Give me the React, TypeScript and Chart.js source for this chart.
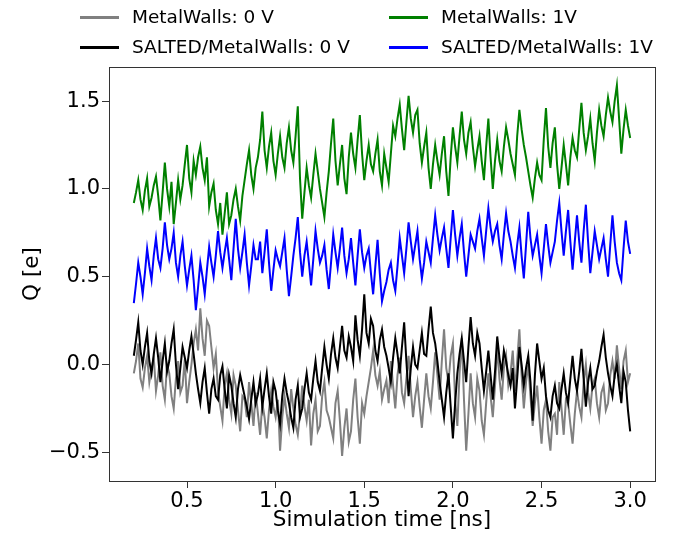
import React, { useEffect, useRef } from "react";
import { Chart, registerables } from "chart.js";

Chart.register(...registerables);

const times = [
  0.2, 0.2125, 0.225, 0.2375, 0.25, 0.2625, 0.275, 0.2875,
  0.3, 0.3125, 0.325, 0.3375, 0.35, 0.3625, 0.375, 0.3875,
  0.4, 0.4125, 0.425, 0.4375, 0.45, 0.4625, 0.475, 0.4875,
  0.5, 0.5125, 0.525, 0.5375, 0.55, 0.5625, 0.575, 0.5875,
  0.6, 0.6125, 0.625, 0.6375, 0.65, 0.6625, 0.675, 0.6875,
  0.7, 0.7125, 0.725, 0.7375, 0.75, 0.7625, 0.775, 0.7875,
  0.8, 0.8125, 0.825, 0.8375, 0.85, 0.8625, 0.875, 0.8875,
  0.9, 0.9125, 0.925, 0.9375, 0.95, 0.9625, 0.975, 0.9875,
  1.0, 1.0125, 1.025, 1.0375, 1.05, 1.0625, 1.075, 1.0875,
  1.1, 1.1125, 1.125, 1.1375, 1.15, 1.1625, 1.175, 1.1875,
  1.2, 1.2125, 1.225, 1.2375, 1.25, 1.2625, 1.275, 1.2875,
  1.3, 1.3125, 1.325, 1.3375, 1.35, 1.3625, 1.375, 1.3875,
  1.4, 1.4125, 1.425, 1.4375, 1.45, 1.4625, 1.475, 1.4875,
  1.5, 1.5125, 1.525, 1.5375, 1.55, 1.5625, 1.575, 1.5875,
  1.6, 1.6125, 1.625, 1.6375, 1.65, 1.6625, 1.675, 1.6875,
  1.7, 1.7125, 1.725, 1.7375, 1.75, 1.7625, 1.775, 1.7875,
  1.8, 1.8125, 1.825, 1.8375, 1.85, 1.8625, 1.875, 1.8875,
  1.9, 1.9125, 1.925, 1.9375, 1.95, 1.9625, 1.975, 1.9875,
  2.0, 2.0125, 2.025, 2.0375, 2.05, 2.0625, 2.075, 2.0875,
  2.1, 2.1125, 2.125, 2.1375, 2.15, 2.1625, 2.175, 2.1875,
  2.2, 2.2125, 2.225, 2.2375, 2.25, 2.2625, 2.275, 2.2875,
  2.3, 2.3125, 2.325, 2.3375, 2.35, 2.3625, 2.375, 2.3875,
  2.4, 2.4125, 2.425, 2.4375, 2.45, 2.4625, 2.475, 2.4875,
  2.5, 2.5125, 2.525, 2.5375, 2.55, 2.5625, 2.575, 2.5875,
  2.6, 2.6125, 2.625, 2.6375, 2.65, 2.6625, 2.675, 2.6875,
  2.7, 2.7125, 2.725, 2.7375, 2.75, 2.7625, 2.775, 2.7875,
  2.8, 2.8125, 2.825, 2.8375, 2.85, 2.8625, 2.875, 2.8875,
  2.9, 2.9125, 2.925, 2.9375, 2.95, 2.9625, 2.975, 2.9875,
  3.0,
];

const mwZero = [
  -0.05, 0.02, 0.12, -0.08, -0.13, -0.02, 0.05, -0.1, -0.02, 0.04, -0.15, -0.06, 0.07, -0.12, -0.2, 0.0, -0.05, -0.18, -0.25, -0.08,
  0.02, -0.16, -0.12, 0.03, -0.22, -0.1, 0.0, 0.12, 0.2, 0.08, 0.32, 0.15, 0.05, 0.25, 0.22, 0.1, -0.02, 0.06, -0.15, -0.24,
  -0.32, -0.12, -0.05, -0.2, -0.28, -0.06, -0.12, -0.26, -0.38, -0.18, -0.2, -0.3, -0.1, -0.22, -0.35, -0.16, -0.28, -0.4, -0.22, -0.3,
  -0.42, -0.26, -0.15, -0.24, -0.3, -0.2, -0.49, -0.3, -0.18, -0.28, -0.36, -0.14, -0.25, -0.34, -0.4, -0.28, -0.12, -0.24, -0.32, -0.2,
  -0.46, -0.28, -0.2, -0.38, -0.35, -0.18, -0.1, -0.26, -0.3, -0.36, -0.42, -0.22, -0.15, -0.32, -0.52, -0.36, -0.25, -0.44, -0.38, -0.2,
  -0.08, -0.3, -0.45, -0.22, -0.28, -0.18, -0.1, -0.02, 0.08, -0.06, -0.12, -0.04, -0.2, -0.14, -0.09, -0.22, 0.02, -0.12, -0.25, -0.06,
  0.04, -0.16, -0.22, -0.08, 0.05, -0.14, -0.3, -0.18, -0.1, -0.24, -0.36, -0.2, -0.05, -0.18, -0.25, -0.1, 0.07, -0.06, -0.2, 0.02,
  0.2, -0.02, -0.1, 0.05, 0.12, -0.2, -0.35, -0.05, 0.15, -0.2, -0.49, -0.28, -0.05, -0.22, -0.3, -0.08, -0.15, -0.32, -0.4, -0.22,
  -0.05, -0.18, -0.3, -0.12, 0.1, -0.08, -0.2, -0.02, 0.05, -0.12, -0.05, 0.08, -0.15, 0.02, 0.2, -0.06, -0.25, -0.1, 0.0, -0.18,
  -0.35, -0.22, -0.12, -0.3, -0.45, -0.26, -0.2, -0.38, -0.49, -0.3, -0.28, -0.4, -0.1, -0.25, -0.4, -0.2, -0.22, -0.34, -0.45, -0.28,
  -0.15, -0.24, -0.3, -0.1, 0.0, -0.16, -0.25, -0.12, -0.08, -0.22, -0.3, -0.16, -0.12, -0.26, -0.22, -0.06, 0.02, -0.08, 0.11, -0.02,
  -0.14, 0.02, 0.08, -0.1, -0.05,
];

const saltedZero = [
  0.05, 0.14, 0.24, 0.08, 0.0, 0.1, 0.18, 0.02, -0.05, 0.06, 0.15, 0.04, -0.1, 0.02, 0.12, -0.04, 0.02, 0.12, 0.2, 0.0,
  -0.14, -0.02, 0.1, 0.04, -0.02, 0.08, 0.16, 0.06, -0.05, -0.14, -0.22, -0.1, -0.02, -0.16, -0.28, -0.14, -0.08, -0.18, -0.2, -0.06,
  -0.01, -0.14, -0.25, -0.06, -0.12, -0.22, -0.3, -0.14, -0.06, -0.12, -0.18, -0.24, -0.31, -0.2, -0.1, -0.22, -0.17, -0.08, -0.24, -0.14,
  -0.05, -0.18, -0.28, -0.1, -0.15, -0.26, -0.34, -0.18, -0.08, -0.16, -0.22, -0.3, -0.36, -0.2, -0.12, -0.3, -0.25, -0.14, -0.05, -0.16,
  -0.2, -0.08, 0.02, -0.1, -0.15, -0.02, 0.1, 0.0, -0.08, 0.06, 0.15, 0.04, -0.02, 0.1, 0.22, 0.08, 0.04, 0.16, 0.1, 0.02,
  0.28, 0.14, 0.05, 0.2, 0.4, 0.18, 0.12, 0.26, 0.22, 0.08, 0.02, 0.14, 0.2, 0.1, 0.05, -0.02, -0.1, 0.04, 0.15, 0.06,
  -0.05, 0.1, 0.24, 0.02, -0.18, -0.02, 0.1, 0.0, -0.02, 0.08, 0.18, 0.06, 0.05, 0.2, 0.33, 0.18, 0.12, 0.02, -0.1, -0.2,
  -0.3, -0.16, -0.05, -0.24, -0.42, -0.22, -0.05, 0.06, 0.15, 0.02, -0.1, 0.1, 0.27, 0.12, 0.05, 0.18, 0.12, -0.02, -0.15, -0.04,
  0.08, -0.06, -0.2, -0.04, 0.16, 0.04, -0.05, 0.08, 0.02, -0.06, -0.12, -0.02, -0.25, -0.08, 0.1, 0.0, -0.12, -0.02, 0.05, -0.1,
  -0.32, -0.06, 0.12, 0.02, -0.08, -0.02, -0.18, -0.26, -0.3, -0.18, -0.12, -0.22, -0.25, -0.14, -0.05, -0.16, -0.22, -0.08, 0.05, -0.08,
  -0.15, -0.04, 0.09, -0.08, -0.24, -0.1, -0.02, -0.14, -0.12, -0.04, 0.02, 0.1, 0.17, 0.04, -0.05, -0.12, -0.18, -0.06, 0.0, -0.12,
  -0.22, -0.04, -0.1, -0.26, -0.38,
];

const mwOne = [
  0.92, 0.98, 1.05, 0.94, 0.88, 0.99, 1.06, 0.9, 0.95, 1.02, 1.07, 0.96, 0.82, 0.98, 1.15, 1.0, 0.9, 1.04, 0.8, 0.92,
  1.05, 0.94, 1.02, 1.14, 1.25, 1.06, 0.98, 1.16, 1.08, 1.18, 1.24, 1.12, 1.05, 1.18, 0.9, 0.98, 1.03, 0.88, 0.8, 0.92,
  0.74, 0.86, 0.98, 0.8, 0.85, 0.94, 1.0, 0.9, 0.82, 0.96, 1.05, 1.14, 1.22, 1.08, 1.0, 1.12, 1.18, 1.28, 1.44, 1.22,
  1.12, 1.24, 1.32, 1.16, 1.08, 1.2, 1.3, 1.18, 1.12, 1.26, 1.35, 1.22, 1.15, 1.3, 1.47, 1.06, 0.83, 0.98, 1.12, 1.02,
  0.95, 1.08, 1.2, 1.1, 1.0, 0.92, 0.84, 0.98, 1.1, 1.26, 1.4, 1.16, 1.02, 1.14, 1.25, 1.06, 0.97, 1.18, 1.32, 1.2,
  1.12, 1.28, 1.42, 1.2, 1.05, 1.16, 1.25, 1.14, 1.1, 1.2, 1.28, 1.1, 1.02, 1.2, 1.12, 1.04, 1.2, 1.36, 1.3, 1.4,
  1.48, 1.34, 1.22, 1.38, 1.53, 1.4, 1.32, 1.42, 1.45, 1.26, 1.15, 1.24, 1.32, 1.12, 1.0, 1.14, 1.25, 1.16, 1.08, 1.2,
  1.3, 1.1, 0.96, 1.18, 1.35, 1.24, 1.15, 1.3, 1.44, 1.28, 1.2, 1.32, 1.38, 1.24, 1.13, 1.22, 1.3, 1.16, 1.05, 1.24,
  1.4, 1.18, 1.0, 1.16, 1.28, 1.16, 1.1, 1.24, 1.35, 1.28, 1.2, 1.14, 1.08, 1.3, 1.45, 1.34, 1.25, 1.18, 1.1, 1.02,
  0.95, 1.06, 1.15, 1.08, 1.05, 1.28, 1.46, 1.24, 1.12, 1.26, 1.35, 1.14, 1.0, 1.12, 1.25, 1.14, 1.02, 1.18, 1.29, 1.22,
  1.18, 1.34, 1.49, 1.32, 1.22, 1.3, 1.4, 1.26, 1.16, 1.32, 1.45, 1.36, 1.3, 1.42, 1.52, 1.44, 1.38, 1.5, 1.59, 1.4,
  1.2, 1.34, 1.45, 1.36, 1.29,
];

const saltedOne = [
  0.35, 0.46, 0.58, 0.5, 0.4, 0.52, 0.66, 0.56, 0.48, 0.62, 0.72, 0.6, 0.55, 0.66, 0.81, 0.68, 0.6, 0.66, 0.75, 0.58,
  0.5, 0.62, 0.7, 0.56, 0.45, 0.54, 0.62, 0.48, 0.31, 0.44, 0.58, 0.5, 0.4, 0.54, 0.67, 0.58, 0.5, 0.62, 0.76, 0.64,
  0.55, 0.64, 0.72, 0.6, 0.48, 0.66, 0.83, 0.66, 0.55, 0.64, 0.74, 0.58, 0.45, 0.56, 0.68, 0.6, 0.6, 0.7, 0.52, 0.64,
  0.77, 0.58, 0.42, 0.54, 0.65, 0.6, 0.56, 0.64, 0.72, 0.54, 0.39, 0.5, 0.62, 0.72, 0.84, 0.64, 0.5, 0.62, 0.7, 0.58,
  0.45, 0.6, 0.76, 0.66, 0.58, 0.62, 0.68, 0.54, 0.43, 0.58, 0.74, 0.64, 0.55, 0.66, 0.78, 0.62, 0.52, 0.6, 0.72, 0.58,
  0.45, 0.62, 0.77, 0.64, 0.55, 0.62, 0.66, 0.52, 0.4, 0.56, 0.71, 0.52, 0.36, 0.42, 0.47, 0.54, 0.58, 0.48, 0.42, 0.56,
  0.72, 0.62, 0.52, 0.66, 0.81, 0.7, 0.6, 0.68, 0.76, 0.6, 0.49, 0.58, 0.7, 0.64, 0.58, 0.72, 0.85, 0.74, 0.65, 0.72,
  0.78, 0.66, 0.55, 0.72, 0.88, 0.74, 0.62, 0.72, 0.8, 0.64, 0.5, 0.62, 0.74, 0.7, 0.66, 0.76, 0.83, 0.72, 0.62, 0.76,
  0.89, 0.78, 0.7, 0.76, 0.8, 0.68, 0.6, 0.74, 0.86, 0.76, 0.7, 0.62, 0.55, 0.68, 0.78, 0.62, 0.49, 0.68, 0.87, 0.72,
  0.62, 0.68, 0.74, 0.62, 0.52, 0.66, 0.8, 0.68, 0.58, 0.64, 0.7, 0.82, 0.92, 0.76, 0.62, 0.76, 0.88, 0.7, 0.54, 0.7,
  0.85, 0.7, 0.58, 0.76, 0.91, 0.7, 0.52, 0.64, 0.76, 0.68, 0.6, 0.66, 0.72, 0.6, 0.5, 0.68, 0.85, 0.7, 0.58, 0.52,
  0.48, 0.66, 0.82, 0.7, 0.63,
];

const xTicks = [0.5, 1.0, 1.5, 2.0, 2.5, 3.0];
const yTicks = [-0.5, 0.0, 0.5, 1.0, 1.5];

const seriesNames = [
  "MetalWalls: 0 V",
  "SALTED/MetalWalls: 0 V",
  "MetalWalls: 1V",
  "SALTED/MetalWalls: 1V",
];
const seriesColors = ["#808080", "#000000", "#008000", "#0000ff"];

const FONT = "'DejaVu Sans', sans-serif";

const fmt = (v: number) => {
  const s = Math.abs(v).toFixed(1);
  return v < 0 ? "\u2212" + s : s;
};

const framePlugin = {
  id: "frame",
  afterDatasetsDraw(chart: any) {
    const { ctx, chartArea } = chart;
    ctx.save();
    ctx.strokeStyle = "#333333";
    ctx.lineWidth = 1;
    ctx.strokeRect(
      Math.round(chartArea.left) + 0.5,
      Math.round(chartArea.top) + 0.5,
      Math.round(chartArea.right - chartArea.left),
      Math.round(chartArea.bottom - chartArea.top)
    );
    ctx.restore();
  },
};

export default function App() {
  const ref = useRef<HTMLCanvasElement | null>(null);

  useEffect(() => {
    if (!ref.current) return;
    const all = [mwZero, saltedZero, mwOne, saltedOne];
    const orders = [4, 3, 2, 1];
    const chart = new Chart(ref.current, {
      type: "line",
      data: {
        datasets: all.map((vals, k) => ({
          label: seriesNames[k],
          data: vals.map((v, i) => ({ x: times[i], y: v })),
          borderColor: seriesColors[k],
          backgroundColor: seriesColors[k],
          borderWidth: 2,
          pointRadius: 0,
          tension: 0,
          fill: false,
          order: orders[k],
        })),
      },
      options: {
        animation: false,
        responsive: false,
        devicePixelRatio: 1,
        layout: { padding: { top: 67, right: 20, left: 0, bottom: 0 } },
        plugins: {
          legend: { display: false },
          tooltip: { enabled: false },
        },
        scales: {
          x: {
            type: "linear",
            min: 0.06,
            max: 3.14,
            afterBuildTicks: (axis: any) => {
              axis.ticks = xTicks.map((v) => ({ value: v }));
            },
            afterFit: (axis: any) => {
              axis.height = 52;
            },
            ticks: {
              callback: (v: any) => fmt(Number(v)),
              color: "#000",
              font: { family: FONT, size: 21 },
              padding: 1,
              maxRotation: 0,
            },
            grid: {
              display: true,
              drawOnChartArea: false,
              drawTicks: true,
              tickLength: 7,
              tickColor: "#333",
            },
            border: { display: false },
            title: {
              display: true,
              text: "Simulation time [ns]",
              color: "#000",
              font: { family: FONT, size: 21.5 },
              padding: { top: 0, bottom: 0 },
            },
          },
          y: {
            type: "linear",
            min: -0.663,
            max: 1.694,
            afterBuildTicks: (axis: any) => {
              axis.ticks = yTicks.map((v) => ({ value: v }));
            },
            afterFit: (axis: any) => {
              axis.width = 109;
            },
            ticks: {
              callback: (v: any) => fmt(Number(v)),
              color: "#000",
              font: { family: FONT, size: 21 },
              padding: 2,
            },
            grid: {
              display: true,
              drawOnChartArea: false,
              drawTicks: true,
              tickLength: 7,
              tickColor: "#333",
            },
            border: { display: false },
            title: {
              display: true,
              text: "Q [e]",
              color: "#000",
              font: { family: FONT, size: 21.5 },
              padding: { top: 20, bottom: 0 },
            },
          },
        },
      },
      plugins: [framePlugin],
    });
    return () => chart.destroy();
  }, []);

  const legendPos = [
    { left: 80, top: 17 },
    { left: 80, top: 47 },
    { left: 389, top: 17 },
    { left: 389, top: 47 },
  ];

  return (
    <div style={{ position: "absolute", left: 0, top: 0, width: 675, height: 533, background: "#fff" }}>
      <canvas ref={ref} width={675} height={533} style={{ display: "block" }} />
      {seriesNames.map((name, k) => (
        <div key={name}>
          <div
            style={{
              position: "absolute",
              left: legendPos[k].left,
              top: legendPos[k].top - 1.5,
              width: 39,
              height: 3,
              background: seriesColors[k],
            }}
          />
          <div
            style={{
              position: "absolute",
              left: legendPos[k].left + 52,
              top: legendPos[k].top - 11,
              height: 22,
              lineHeight: "22px",
              fontFamily: FONT,
              fontSize: 18.5,
              color: "#000",
              whiteSpace: "nowrap",
            }}
          >
            {name}
          </div>
        </div>
      ))}
    </div>
  );
}
